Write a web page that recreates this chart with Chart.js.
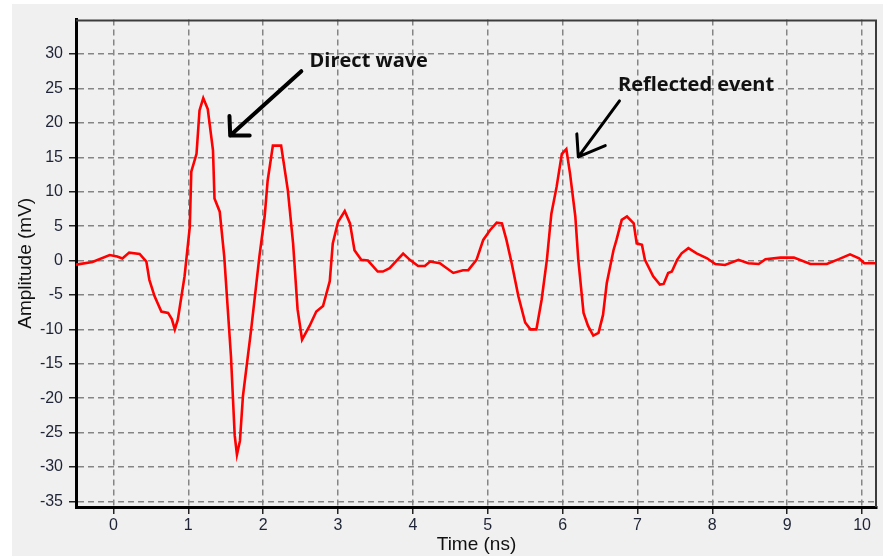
<!DOCTYPE html>
<html>
<head>
<meta charset="utf-8">
<script src="https://cdn.jsdelivr.net/npm/chart.js@4.4.1/dist/chart.umd.min.js"></script>
<style>
    html, body { margin: 0; padding: 0; background: #ffffff; }
    #panel { position: absolute; left: 12px; top: 4px; width: 871px; height: 552px; background: #f0f0f0; }
    #chart { display: block; }
</style>
</head>
<body>
<div id="panel"><canvas id="chart" width="871" height="552"></canvas></div>
<script>
// ---- Data ----
const timeNs = [
    -0.50, -0.28, -0.05, 0.05, 0.12, 0.21, 0.35, 0.44, 0.48, 0.55,
    0.64, 0.73, 0.78, 0.82, 0.86, 0.95, 1.02, 1.04, 1.11, 1.15,
    1.20, 1.26, 1.33, 1.35, 1.42, 1.48, 1.57, 1.62, 1.65, 1.69,
    1.73, 1.84, 1.95, 2.02, 2.06, 2.13, 2.24, 2.33, 2.40, 2.46,
    2.52, 2.62, 2.71, 2.80, 2.89, 2.93, 3.00, 3.09, 3.16, 3.22,
    3.31, 3.40, 3.53, 3.60, 3.69, 3.87, 3.96, 4.07, 4.16, 4.23,
    4.36, 4.54, 4.67, 4.74, 4.85, 4.94, 5.03, 5.12, 5.19, 5.25,
    5.32, 5.41, 5.50, 5.57, 5.65, 5.72, 5.79, 5.85, 5.92, 5.99,
    6.05, 6.10, 6.17, 6.21, 6.28, 6.34, 6.41, 6.48, 6.54, 6.59,
    6.68, 6.72, 6.79, 6.86, 6.95, 6.99, 7.06, 7.10, 7.21, 7.30,
    7.35, 7.41, 7.46, 7.53, 7.59, 7.68, 7.79, 7.93, 8.04, 8.17,
    8.35, 8.48, 8.62, 8.71, 8.91, 9.09, 9.31, 9.53, 9.69, 9.84,
    9.96, 10.03, 10.21
];
const amplitudeMv = [
    -0.6, -0.2, 0.8, 0.6, 0.3, 1.15, 0.95, -0.15, -2.8, -5.2,
    -7.4, -7.6, -8.5, -10.0, -8.6, -2.3, 4.9, 12.9, 15.5, 21.8,
    23.6, 22.0, 16.0, 9.0, 7.1, 0.6, -13.9, -25.4, -28.2, -26.2,
    -19.7, -10.0, 0.6, 6.4, 11.6, 16.7, 16.7, 10.2, 2.5, -7.1,
    -11.5, -9.5, -7.4, -6.6, -3.0, 2.5, 5.6, 7.2, 5.4, 1.5,
    0.1, 0.0, -1.6, -1.6, -1.1, 1.0, 0.1, -0.8, -0.8, -0.15,
    -0.4, -1.8, -1.4, -1.4, 0.1, 3.0, 4.4, 5.5, 5.4, 3.0,
    -0.4, -5.2, -9.0, -10.0, -10.0, -5.7, 0.1, 6.8, 10.7, 15.5,
    16.2, 12.6, 6.4, 0.1, -7.6, -9.5, -10.9, -10.5, -7.9, -3.3,
    1.5, 3.0, 5.9, 6.4, 5.4, 2.5, 2.3, 0.1, -2.3, -3.5,
    -3.4, -1.8, -1.6, 0.1, 1.05, 1.8, 1.05, 0.33, -0.5, -0.64,
    0.1, -0.4, -0.5, 0.2, 0.43, 0.43, -0.5, -0.5, 0.2, 0.9,
    0.33, -0.4, -0.4
];

// ---- Tick labels ----
const xTicks = [0, 1, 2, 3, 4, 5, 6, 7, 8, 9, 10];
const yTicks = [-35, -30, -25, -20, -15, -10, -5, 0, 5, 10, 15, 20, 25, 30];

// ---- Annotations (data units) ----
const notes = [
    { text: 'Direct wave', at: [2.62, 29.0], from: [2.51, 27.5], tip: [1.56, 18.15], wings: [[1.55, 21.0], [1.82, 18.15]], width: 4 },
    { text: 'Reflected event', at: [6.74, 25.5], from: [6.76, 23.2], tip: [6.21, 15.07], wings: [[6.19, 18.4], [6.57, 16.7]], width: 3 }
];

const frameAndNotes = {
    id: 'frameAndNotes',
    afterDatasetsDraw(chart) {
        const { ctx, chartArea: a, scales: { x, y } } = chart;
        ctx.save();
        // top + right frame
        ctx.strokeStyle = '#3c3c3c';
        ctx.lineWidth = 2;
        ctx.beginPath();
        ctx.moveTo(a.left, a.top + 1);
        ctx.lineTo(a.right - 1, a.top + 1);
        ctx.lineTo(a.right - 1, a.bottom);
        ctx.stroke();

        notes.forEach(n => {
            const px = p => [x.getPixelForValue(p[0]), y.getPixelForValue(p[1])];
            const [fx, fy] = px(n.from);
            const [tx, ty] = px(n.tip);
            ctx.strokeStyle = '#000';
            ctx.lineWidth = n.width;
            ctx.lineCap = 'round';
            ctx.beginPath();
            ctx.moveTo(fx, fy);
            ctx.lineTo(tx, ty);
            n.wings.forEach(w => {
                const [wx, wy] = px(w);
                ctx.moveTo(tx, ty);
                ctx.lineTo(wx, wy);
            });
            ctx.stroke();

            const [lx, ly] = px(n.at);
            ctx.fillStyle = '#111';
            ctx.font = 'bold 20px "Open Sans", sans-serif';
            ctx.textAlign = 'left';
            ctx.textBaseline = 'middle';
            ctx.fillText(n.text, lx, ly);
        });
        ctx.restore();
    }
};

const tickFont = { family: '"Liberation Sans", Arial, sans-serif', size: 16 };
const titleFont = { family: '"Liberation Sans", Arial, sans-serif', size: 19 };
const gridColor = '#858585';

new Chart(document.getElementById('chart'), {
    type: 'scatter',
    data: {
        datasets: [{
            data: timeNs.map((t, i) => ({ x: t, y: amplitudeMv[i] })),
            showLine: true,
            borderColor: '#ff0000',
            borderWidth: 2.6,
            pointRadius: 0,
            tension: 0
        }]
    },
    options: {
        responsive: false,
        animation: false,
        layout: { padding: { top: 11, right: 6, left: 0, bottom: 0 } },
        plugins: { legend: { display: false }, tooltip: { enabled: false } },
        scales: {
            x: {
                type: 'linear',
                min: -0.5,
                max: 10.2,
                afterBuildTicks: s => { s.ticks = xTicks.map(v => ({ value: v })); },
                afterFit: s => { s.height = 49; },
                ticks: { color: '#1e2436', font: tickFont, padding: 2, maxRotation: 0, autoSkip: false },
                grid: { color: gridColor, lineWidth: 1.5, tickLength: 7, tickColor: '#222', tickWidth: 1.5, tickBorderDash: [] },
                border: { color: '#000', width: 3, dash: [6, 4] },
                title: { display: true, text: 'Time (ns)', color: '#111', font: titleFont, padding: { top: 0, bottom: 0 } }
            },
            y: {
                type: 'linear',
                min: -35.8,
                max: 35,
                afterBuildTicks: s => { s.ticks = yTicks.map(v => ({ value: v })); },
                afterFit: s => { s.width = 64; },
                ticks: { color: '#1e2436', font: tickFont, padding: 6, autoSkip: false },
                grid: { color: gridColor, lineWidth: 1.5, tickLength: 7, tickColor: '#222', tickWidth: 1.5, tickBorderDash: [] },
                border: { color: '#000', width: 3, dash: [6, 4] },
                title: { display: true, text: 'Amplitude (mV)', color: '#111', font: titleFont, padding: { top: 2, bottom: 0 } }
            }
        }
    },
    plugins: [frameAndNotes]
});
</script>
</body>
</html>
